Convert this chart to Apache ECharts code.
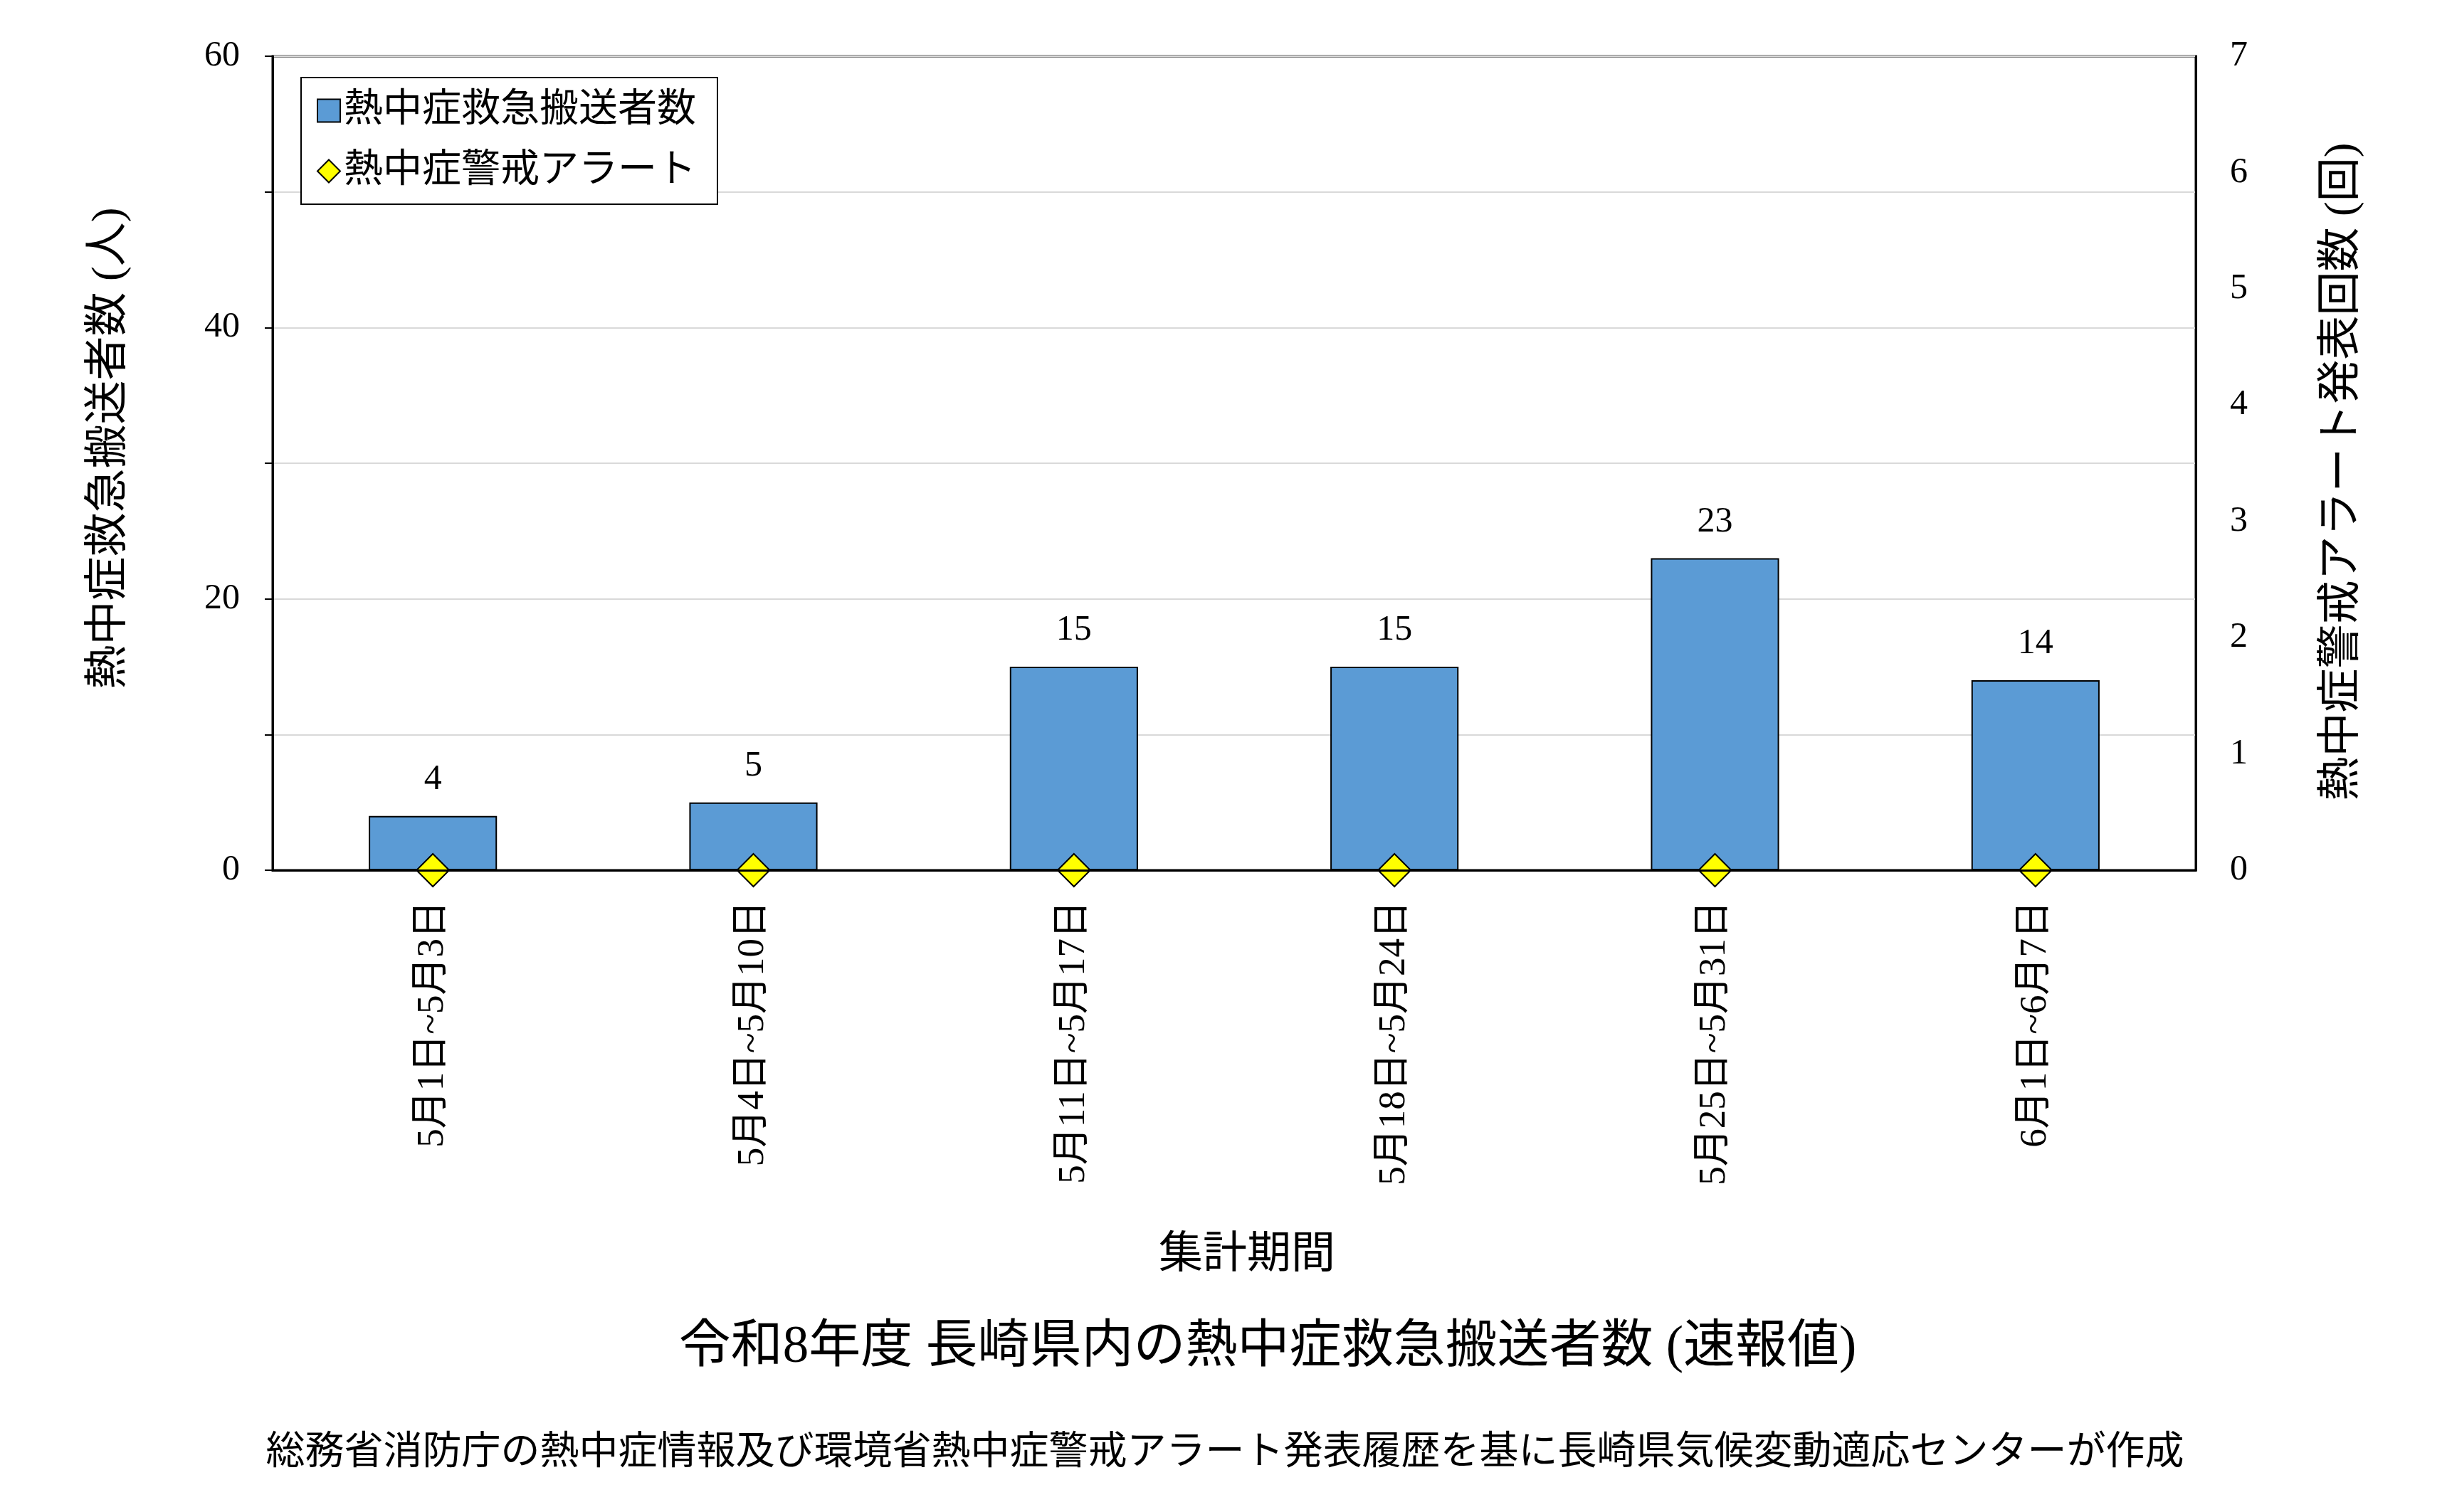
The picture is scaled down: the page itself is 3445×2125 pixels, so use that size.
<!DOCTYPE html>
<html>
<head>
<meta charset="utf-8">
<script src="https://cdn.jsdelivr.net/npm/echarts@6/dist/echarts.min.js"></script>
<style>
  html, body { margin: 0; padding: 0; background: #fff; }
  #main { width: 3445px; height: 2125px; }
</style>
</head>
<body>
<div id="main"></div>
<script>
// 集計期間
const categories = ['5月1日~5月3日', '5月4日~5月10日', '5月11日~5月17日', '5月18日~5月24日', '5月25日~5月31日', '6月1日~6月7日'];
// 熱中症救急搬送者数 (人)
const transportCounts = [4, 5, 15, 15, 23, 14];
// 熱中症警戒アラート発表回数 (回)
const alertCounts = [0, 0, 0, 0, 0, 0];

const FONT = '"Liberation Serif", "Noto Sans CJK JP"';

const chart = echarts.init(document.getElementById('main'));

const option = {
    backgroundColor: '#fff',
    animation: false,
    textStyle: { fontFamily: FONT, color: '#000' },
    grid: {
        left: 383,
        right: 360,
        top: 79,
        bottom: 902,
        show: true,
        borderColor: '#000',
        borderWidth: 3,
        backgroundColor: 'transparent'
    },
    legend: {
        orient: 'vertical',
        left: 423,
        top: 109,
        padding: [19, 30, 19, 22],
        itemGap: 30,
        itemWidth: 32,
        itemHeight: 32,
        borderColor: '#000',
        borderWidth: 2,
        backgroundColor: '#fff',
        textStyle: { fontSize: 55, fontFamily: FONT, color: '#000' },
        data: [
            { name: '熱中症救急搬送者数', icon: 'rect' },
            { name: '熱中症警戒アラート', icon: 'diamond' }
        ]
    },
    xAxis: [
        {
            type: 'category',
            data: categories,
            axisLine: { lineStyle: { color: '#000', width: 3 } },
            axisTick: { show: false },
            axisLabel: {
                rotate: 90,
                interval: 0,
                margin: 43,
                fontSize: 53,
                fontFamily: FONT,
                color: '#000'
            }
        },
        {
            // top frame line of the plot area
            type: 'category',
            position: 'top',
            data: categories,
            z: 10,
            axisLine: { show: true, lineStyle: { color: '#000', width: 3 } },
            axisTick: { show: false },
            axisLabel: { show: false },
            splitLine: { show: false }
        }
    ],
    yAxis: [
        {
            type: 'value',
            min: 0,
            max: 60,
            interval: 10,
            axisLine: { show: true, lineStyle: { color: '#000', width: 3 } },
            axisTick: { show: true, length: 11, lineStyle: { color: '#000', width: 2 } },
            splitLine: { lineStyle: { color: '#d9d9d9', width: 2 } },
            axisLabel: {
                margin: 46,
                fontSize: 50,
                fontFamily: FONT,
                color: '#000',
                formatter: function (v) { return v % 20 === 0 ? String(v) : ''; }
            }
        },
        {
            type: 'value',
            min: 0,
            max: 7,
            interval: 1,
            position: 'right',
            z: 10,
            axisLine: { show: true, lineStyle: { color: '#000', width: 3 } },
            axisTick: { show: false },
            splitLine: { show: false },
            axisLabel: { margin: 48, fontSize: 50, fontFamily: FONT, color: '#000' }
        }
    ],
    series: [
        {
            name: '熱中症救急搬送者数',
            type: 'bar',
            yAxisIndex: 0,
            barWidth: '40%',
            data: transportCounts,
            itemStyle: { color: '#5b9bd5', borderColor: '#000', borderWidth: 2 },
            label: {
                show: true,
                position: 'top',
                distance: 26,
                fontSize: 50,
                fontFamily: FONT,
                color: '#000'
            },
            z: 2
        },
        {
            name: '熱中症警戒アラート',
            type: 'scatter',
            yAxisIndex: 1,
            symbol: 'diamond',
            symbolSize: 46,
            clip: false,
            data: alertCounts,
            itemStyle: { color: '#ffff00', borderColor: '#000', borderWidth: 2, opacity: 1 },
            z: 5
        }
    ],
    graphic: [
        {
            type: 'text',
            x: 155,
            y: 630,
            rotation: Math.PI / 2,
            style: {
                text: '熱中症救急搬送者数 (人)',
                fontSize: 62,
                fontFamily: FONT,
                fill: '#000',
                align: 'center',
                verticalAlign: 'middle'
            }
        },
        {
            type: 'text',
            x: 3292,
            y: 663,
            rotation: Math.PI / 2,
            style: {
                text: '熱中症警戒アラート発表回数 (回)',
                fontSize: 62,
                fontFamily: FONT,
                fill: '#000',
                align: 'center',
                verticalAlign: 'middle'
            }
        },
        {
            type: 'text',
            x: 1752,
            y: 1766,
            style: {
                text: '集計期間',
                fontSize: 62,
                fontFamily: FONT,
                fill: '#000',
                align: 'center',
                verticalAlign: 'middle'
            }
        },
        {
            type: 'text',
            x: 1781,
            y: 1895,
            style: {
                text: '令和8年度 長崎県内の熱中症救急搬送者数 (速報値)',
                fontSize: 73,
                fontFamily: FONT,
                fill: '#000',
                align: 'center',
                verticalAlign: 'middle'
            }
        },
        {
            type: 'text',
            x: 1721,
            y: 2043,
            style: {
                text: '総務省消防庁の熱中症情報及び環境省熱中症警戒アラート発表履歴を基に長崎県気候変動適応センターが作成',
                fontSize: 55,
                fontFamily: FONT,
                fill: '#000',
                align: 'center',
                verticalAlign: 'middle'
            }
        }
    ]
};

chart.setOption(option);
</script>
</body>
</html>
